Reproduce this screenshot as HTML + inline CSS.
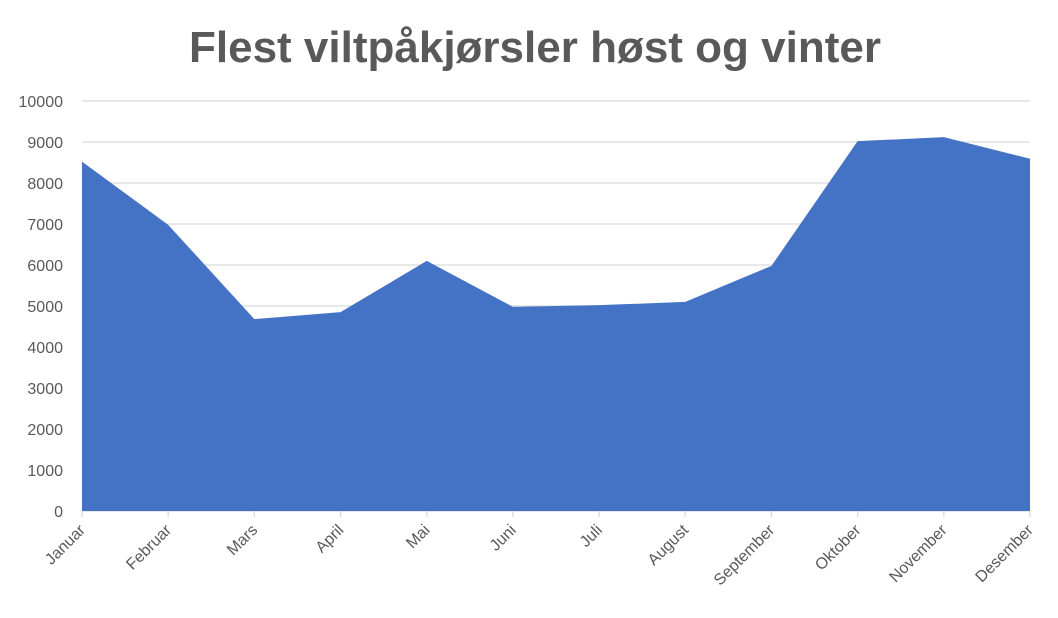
<!DOCTYPE html>
<html><head><meta charset="utf-8"><style>
body{margin:0;background:#fff;}
svg{display:block;font-family:"Liberation Sans",sans-serif;}
</style></head><body>
<svg width="1058" height="618" viewBox="0 0 1058 618">
<text x="535" y="62" text-anchor="middle" font-size="44" font-weight="bold" fill="#595959">Flest viltpåkjørsler høst og vinter</text>
<g id="grid"></g><g id="area"></g><g id="yt"></g><g id="xt"></g>
</svg>
<script>
const categories=["Januar","Februar","Mars","April","Mai","Juni","Juli","August","September","Oktober","November","Desember"];
const values=[8520,6980,4680,4850,6100,4980,5020,5100,5980,9020,9120,8590];
const yTicks=[0,1000,2000,3000,4000,5000,6000,7000,8000,9000,10000];
const NS="http://www.w3.org/2000/svg";
const x0=82,x1=1030,yB=511,yT=101,yMax=10000;
const X=i=>x0+i*(x1-x0)/(categories.length-1);
const Y=v=>yB-v/yMax*(yB-yT);
function mk(t,a,p){const e=document.createElementNS(NS,t);for(const k in a)e.setAttribute(k,a[k]);p.appendChild(e);return e;}
const g=document.getElementById('grid'),yt=document.getElementById('yt'),xt=document.getElementById('xt'),ar=document.getElementById('area');
yTicks.forEach(v=>{
 const l=mk('line',{x1:x0,x2:x1,y1:Y(v),y2:Y(v),stroke:'#d9d9d9','stroke-width':1.3},g);
 
 
 const t=mk('text',{x:63,y:Y(v)+6,'text-anchor':'end','font-size':16,fill:'#595959'},yt);
 t.textContent=v;
 
 
});
let d='M'+X(0)+','+Y(0);
values.forEach((v,i)=>{d+=' L'+X(i)+','+Y(v);});
d+=' L'+X(values.length-1)+','+Y(0)+' Z';
const p=mk('path',{d:d,fill:'#4472c4'},ar);


categories.forEach((c,i)=>{
 const tk=mk('line',{x1:X(i),x2:X(i),y1:yB,y2:yB+6,stroke:'#d9d9d9','stroke-width':1.3},xt);
 
 
 const t=mk('text',{x:X(i)+4,y:yB+20,'text-anchor':'end','font-size':16,fill:'#595959',transform:`rotate(-45 ${X(i)+4} ${yB+20})`},xt);
 t.textContent=c;
 
 
});
</script>
</body></html>
